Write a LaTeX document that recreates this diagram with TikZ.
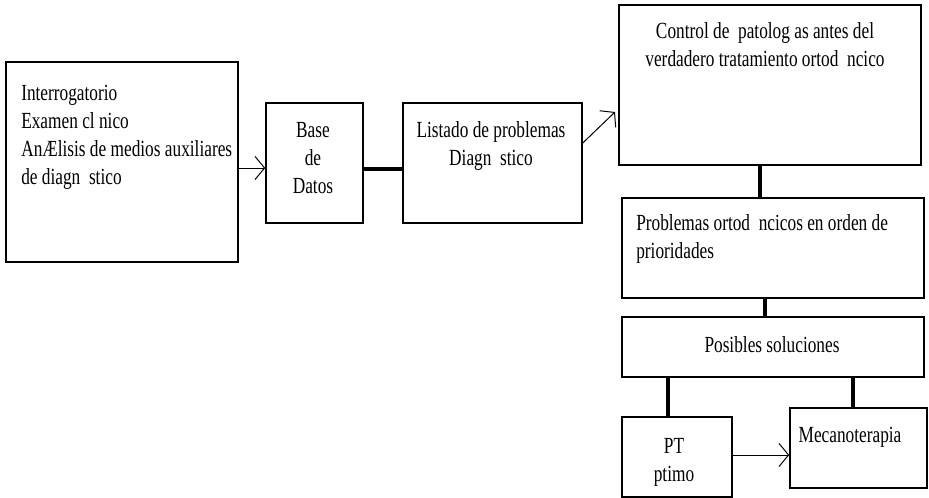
\documentclass[tikz,border=0pt]{standalone}
\usepackage{fontspec}
\newfontfamily\timesn[FakeStretch=0.75]{Liberation Serif}
\newcommand\boxfont{\timesn\fontsize{16.4}{19.9}\selectfont}
\usetikzlibrary{arrows.meta}
\tikzset{
  box/.style={draw,line width=1.1pt,inner sep=0pt},
  txt/.style={inner sep=0pt,font=\boxfont},
  link/.style={line width=2.2pt},
  arr/.style={line width=0.7pt,-{Straight Barb[length=0.24cm,width=0.58cm]}}
}
\begin{document}
\begin{tikzpicture}[x=0.025cm,y=-0.025cm]
  \useasboundingbox (0,0) rectangle (929,498);

  \node[box,minimum width=5.8cm,minimum height=5cm] (datos1) at (122,162) {};
  \node[box,minimum width=2.425cm,minimum height=3cm] (base) at (314.5,163) {};
  \node[box,minimum width=4.475cm,minimum height=3cm] (lista) at (492.5,163) {};
  \node[box,minimum width=7.55cm,minimum height=4cm] (control) at (770,85) {};
  \node[box,minimum width=7.55cm,minimum height=2.5cm] (prob) at (773,248) {};
  \node[box,minimum width=7.55cm,minimum height=1.5cm] (sol) at (773,347) {};
  \node[box,minimum width=2.75cm,minimum height=2cm] (opt) at (677,457) {};
  \node[box,minimum width=3.425cm,minimum height=2cm] (meca) at (858.5,448) {};

  \node[txt,align=left,anchor=north west] (datos1t) at (21,85)
    {Interrogatorio\\Examen cl nico\\AnÆlisis de medios auxiliares\\de diagn\ \ stico};
  \node[txt,align=center,anchor=north] (baset) at (313,122) {Base\\de\\Datos};
  \node[txt,align=center,anchor=north] (listat) at (491,121) {Listado de problemas\\Diagn\ \ stico};
  \node[txt,align=center,anchor=north] (controlt) at (765,22)
    {Control de\ \ patolog as antes del\\verdadero tratamiento ortod\ \ ncico};
  \node[txt,align=left,anchor=north west] (probt) at (636,214)
    {Problemas ortod\ \ ncicos en orden de\\prioridades};
  \node[txt,anchor=north] (solt) at (772,336) {Posibles soluciones};
  \node[txt,align=center,anchor=north] (optt) at (674,438) {PT\\ptimo};
  \node[txt,anchor=north] (mecat) at (850,427) {Mecanoterapia};

  \coordinate (tip) at (615,112);
  \draw[arr] (datos1.east |- 0,168) -- (base.west |- 0,168);
  \draw[link] (base.east |- 0,169) -- (lista.west |- 0,169);
  \draw[arr] (lista.east |- 0,143) -- (tip);
  \draw[link] (control.south -| 760,0) -- (prob.north -| 760,0);
  \draw[link] (prob.south -| 765,0) -- (sol.north -| 765,0);
  \draw[link] (sol.south -| 668,0) -- (opt.north -| 668,0);
  \draw[link] (sol.south -| 853,0) -- (meca.north -| 853,0);
  \draw[arr] (opt.east |- 0,455) -- (meca.west |- 0,455);
\end{tikzpicture}
\end{document}
